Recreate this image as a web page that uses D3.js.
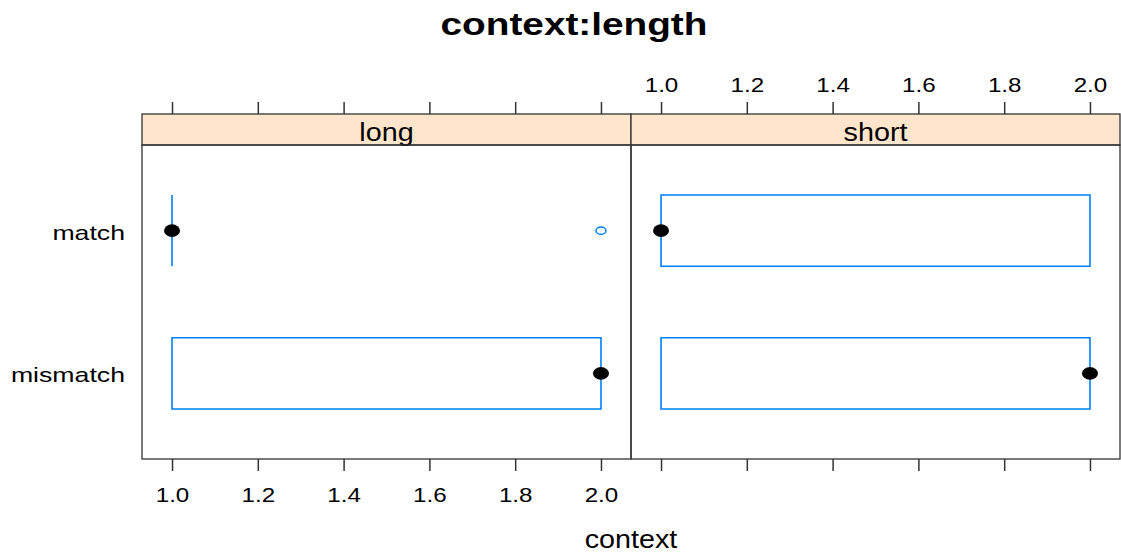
<!DOCTYPE html>
<html>
<head>
<meta charset="utf-8">
<script src="https://cdn.jsdelivr.net/npm/d3@7"></script>
<style>
  body { margin: 0; background: #fff; }
  svg text { font-family: "Liberation Sans", Arial, sans-serif; fill: #000; }
</style>
</head>
<body>
<div id="chart"></div>
<script>
// panels (length) and y categories (context)
var panels = ["long", "short"];
var categories = ["match", "mismatch"];
// five number summaries [min, q1, median, q3, max] per category
var longStats = [[1, 1, 1, 1, 1], [1, 1, 2, 2, 2]];
var shortStats = [[1, 1, 1, 2, 2], [1, 1, 2, 2, 2]];
var longOutliers = [[2], []];
var shortOutliers = [[], []];
var xTicks = [1.0, 1.2, 1.4, 1.6, 1.8, 2.0];
var xDomain = [0.93, 2.07];

var width = 1121, height = 556;
var plotLeft = 142, plotRight = 1120;
var stripTop = 114, stripH = 31, panelBottom = 459;
var panelTop = stripTop + stripH;
var sx = 1.15; // text is drawn a little wide

var svg = d3.select("#chart")
	.append("svg")
		.attr("width", width)
		.attr("height", height);

var panelScale = d3.scaleBand().domain(panels).range([plotLeft, plotRight]);
var bw = panelScale.bandwidth();
var x = d3.scaleLinear().domain(xDomain).range([0, bw]);
var y = d3.scalePoint().domain(categories).range([panelTop, panelBottom]).padding(0.6);
var boxHalf = y.step() * 0.25;

function wideText(g, tx, ty, txt, size, anchor, weight, s) {
	g.append("text")
		.attr("transform", "translate(" + tx + "," + ty + ") scale(" + (s || sx) + ",1)")
		.attr("text-anchor", anchor)
		.style("font-size", size + "px")
		.style("font-weight", weight || "normal")
		.text(txt);
}

// title
wideText(svg, 574, 35, "context:length", 31, "middle", "bold", 1.25);

// y labels
categories.forEach(function (c) {
	wideText(svg, 125, y(c) + 9, c, 21, "end", "normal", 1.27);
});

var data = [
	{ name: "long", stats: longStats, out: longOutliers },
	{ name: "short", stats: shortStats, out: shortOutliers }
];

data.forEach(function (p, pi) {
	var g = svg.append("g").attr("transform", "translate(" + panelScale(p.name) + ",0)");

	// strip
	g.append("rect")
		.attr("x", 0).attr("y", stripTop)
		.attr("width", bw).attr("height", stripH)
		.attr("fill", "#ffe5cc")
		.attr("stroke", "#333").attr("stroke-width", 1.3);
	wideText(g, bw / 2, stripTop + 27, p.name, 25, "middle");

	// panel box
	g.append("rect")
		.attr("x", 0).attr("y", panelTop)
		.attr("width", bw).attr("height", panelBottom - panelTop)
		.attr("fill", "none")
		.attr("stroke", "#333").attr("stroke-width", 1.3);

	// bottom ticks on every panel, labels only on the first
	var bottom = d3.axisBottom(x).tickValues(xTicks).tickSize(12).tickSizeOuter(0)
		.tickFormat(pi === 0 ? d3.format(".1f") : "");
	var ab = g.append("g").attr("transform", "translate(0," + panelBottom + ")").call(bottom);
	// top ticks on every panel, labels only on the second
	var top = d3.axisTop(x).tickValues(xTicks).tickSize(12).tickSizeOuter(0)
		.tickFormat(pi === 1 ? d3.format(".1f") : "");
	var at = g.append("g").attr("transform", "translate(0," + stripTop + ")").call(top);
	[ab, at].forEach(function (a) {
		a.select(".domain").remove();
		a.selectAll(".tick line").attr("stroke", "#333").attr("stroke-width", 1.5);
		a.selectAll(".tick text")
			.style("font-size", "21px")
			.style("font-family", "Liberation Sans, Arial, sans-serif")
			.attr("fill", "#000");
	});
	ab.selectAll(".tick text").attr("y", 0).attr("dy", 0)
		.attr("transform", "translate(0,43) scale(" + sx + ",1)");
	at.selectAll(".tick text").attr("y", 0).attr("dy", 0)
		.attr("transform", "translate(0,-22) scale(" + sx + ",1)");

	// box and whiskers
	var rows = g.selectAll(".bw")
		.data(categories.map(function (c, i) { return { cat: c, s: p.stats[i], out: p.out[i] }; }))
		.enter().append("g");

	// box as a path so a collapsed box still shows as a line
	rows.append("path")
		.attr("d", function (d) {
			var x1 = x(d.s[1]), x2 = x(d.s[3]);
			var y1 = y(d.cat) - boxHalf, y2 = y(d.cat) + boxHalf;
			return "M" + x1 + "," + y1 + "H" + x2 + "V" + y2 + "H" + x1 + "Z";
		})
		.attr("fill", "none")
		.attr("stroke", "#0080ff").attr("stroke-width", 1.6);

	rows.append("line")
		.attr("x1", function (d) { return x(d.s[0]); })
		.attr("x2", function (d) { return x(d.s[1]); })
		.attr("y1", function (d) { return y(d.cat); })
		.attr("y2", function (d) { return y(d.cat); })
		.attr("stroke", "#0080ff").attr("stroke-width", 1.6);
	rows.append("line")
		.attr("x1", function (d) { return x(d.s[3]); })
		.attr("x2", function (d) { return x(d.s[4]); })
		.attr("y1", function (d) { return y(d.cat); })
		.attr("y2", function (d) { return y(d.cat); })
		.attr("stroke", "#0080ff").attr("stroke-width", 1.6);

	rows.selectAll(".out")
		.data(function (d) { return d.out.map(function (v) { return { v: v, cat: d.cat }; }); })
		.enter().append("ellipse")
			.attr("cx", function (d) { return x(d.v); })
			.attr("cy", function (d) { return y(d.cat); })
			.attr("rx", 5).attr("ry", 3.6)
			.attr("fill", "none")
			.attr("stroke", "#0080ff").attr("stroke-width", 1.5);

	rows.append("ellipse")
		.attr("cx", function (d) { return x(d.s[2]); })
		.attr("cy", function (d) { return y(d.cat); })
		.attr("rx", 8).attr("ry", 6.3)
		.attr("fill", "#000");
});

// x axis label
wideText(svg, 631, 548, "context", 25, "middle");
</script>
</body>
</html>
